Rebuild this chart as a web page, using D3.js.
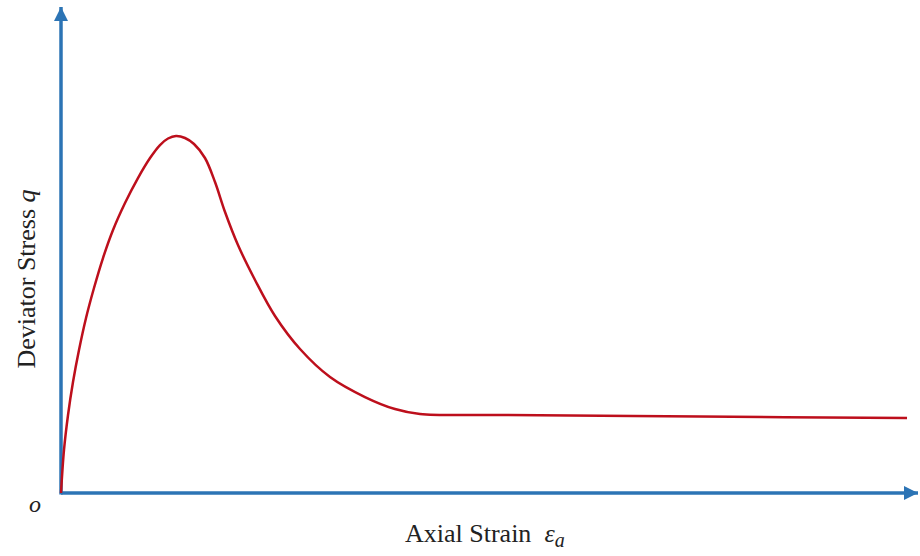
<!DOCTYPE html>
<html>
<head>
<meta charset="utf-8">
<script src="https://cdn.jsdelivr.net/npm/d3@7"></script>
<style>
  body { margin: 0; background: #fff; }
  text { font-family: "Liberation Serif", "Times New Roman", serif; fill: #222; }
</style>
</head>
<body>
<div id="chart"></div>
<script>
// strain (arbitrary units, 0-100)
const strain = [0, 0.35, 0.82, 1.40, 2.10, 2.92, 3.85, 4.90, 6.07, 7.47, 8.98, 10.39, 11.55,
  12.49, 13.42, 14.47, 15.52, 16.80, 17.97, 19.14, 20.65, 22.64, 24.97, 27.89, 31.39, 35.47,
  38.97, 41.89, 51.23, 74.56, 98.72];
// deviator stress (arbitrary units, 0-100)
const stress = [0, 8.85, 16.05, 22.84, 29.42, 36.01, 42.18, 48.35, 54.12, 59.67, 64.81, 68.93, 71.60,
  72.94, 73.46, 73.05, 71.81, 68.93, 63.99, 57.82, 51.03, 43.83, 36.42, 29.63, 23.87, 19.75,
  17.28, 16.26, 16.05, 15.74, 15.43];

const xLabel = "Axial Strain";
const yLabel = "Deviator Stress";

const width = 920, height = 556;
const margin = {top: 7, right: 2, bottom: 63, left: 61};

const axisColor = "#2c74b5", curveColor = "#bd0f1c";

const svg = d3.select("#chart")
  .append("svg")
    .attr("width", width)
    .attr("height", height);

const x = d3.scaleLinear()
  .domain([0, 100])
  .range([margin.left, width - margin.right]);

const y = d3.scaleLinear()
  .domain([0, 100])
  .range([height - margin.bottom, margin.top]);

// arrow heads
svg.append("defs").append("marker")
    .attr("id", "arrow")
    .attr("viewBox", "0 0 10 10")
    .attr("refX", 10)
    .attr("refY", 5)
    .attr("markerWidth", 4)
    .attr("markerHeight", 4)
    .attr("markerUnits", "strokeWidth")
    .attr("orient", "auto")
  .append("path")
    .attr("d", "M0,0 L10,5 L0,10 Z")
    .attr("fill", axisColor);

// x axis
svg.append("line")
  .attr("x1", x(0)).attr("y1", y(0))
  .attr("x2", x(100)).attr("y2", y(0))
  .attr("stroke", axisColor)
  .attr("stroke-width", 3.5)
  .attr("marker-end", "url(#arrow)");

// y axis
svg.append("line")
  .attr("x1", x(0)).attr("y1", y(0) + 1.5)
  .attr("x2", x(0)).attr("y2", y(100))
  .attr("stroke", axisColor)
  .attr("stroke-width", 3.5)
  .attr("marker-end", "url(#arrow)");

// stress-strain curve
const pts = strain.map((d, i) => ({e: d, q: stress[i]}));

svg.append("path")
  .datum(pts)
  .attr("fill", "none")
  .attr("stroke", curveColor)
  .attr("stroke-width", 2.5)
  .attr("stroke-linejoin", "round")
  .attr("d", d3.line()
    .curve(d3.curveCatmullRom.alpha(0.5))
    .x(d => x(d.e))
    .y(d => y(d.q)));

// origin label
svg.append("text")
  .attr("x", 35)
  .attr("y", 512)
  .attr("text-anchor", "middle")
  .style("font-size", "24px")
  .style("font-style", "italic")
  .text("o");

// x label
const xt = svg.append("text")
  .attr("x", 405)
  .attr("y", 542)
  .style("font-size", "26px");
xt.append("tspan").text(xLabel + "\u00a0\u00a0");
xt.append("tspan").style("font-style", "italic").text("\u03b5");
xt.append("tspan").style("font-style", "italic").style("font-size", "20px")
  .attr("dy", 5).text("a");

// y label
const yt = svg.append("text")
  .attr("transform", "translate(35,279) rotate(-90)")
  .attr("text-anchor", "middle")
  .style("font-size", "26px");
yt.append("tspan").text(yLabel + "\u00a0");
yt.append("tspan").style("font-style", "italic").text("q");
</script>
</body>
</html>
